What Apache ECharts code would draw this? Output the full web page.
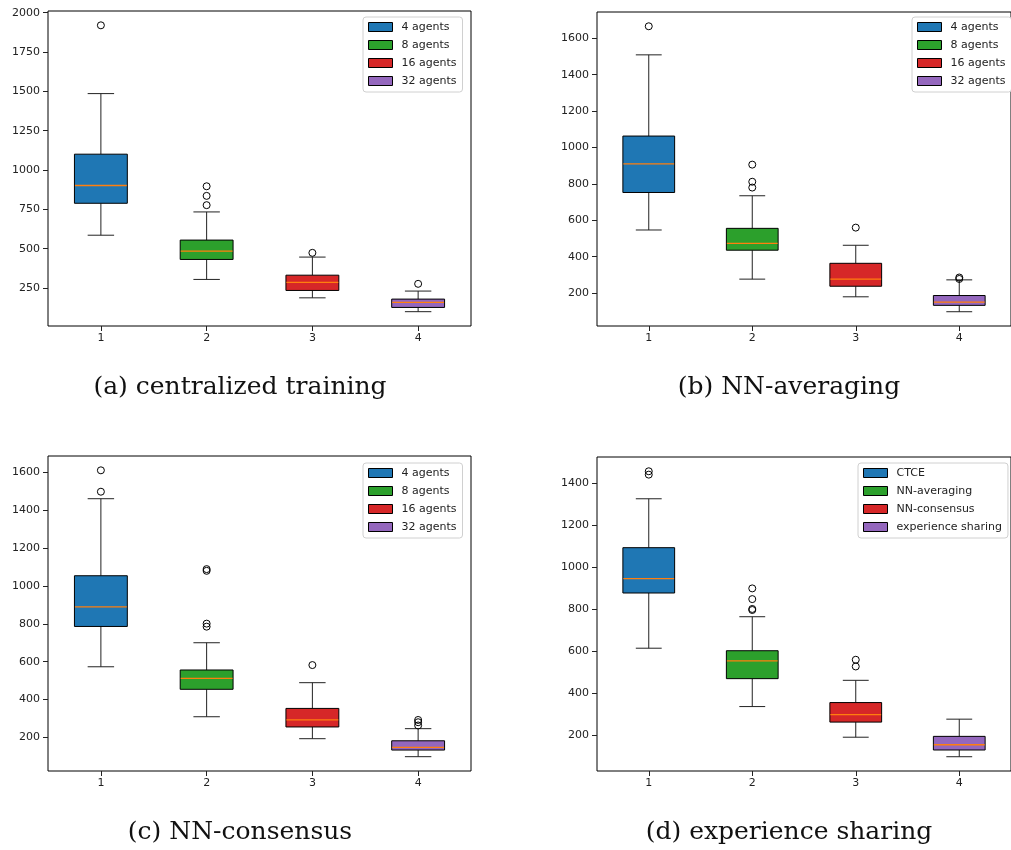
<!DOCTYPE html>
<html><head><meta charset="utf-8">
<script src="https://cdn.jsdelivr.net/npm/echarts@6/dist/echarts.min.js"></script>
<style>html,body{margin:0;padding:0;background:#fff}#c{width:1011px;height:850px}</style>
</head><body><div id="c"></div>
<script>
// ---------- data ----------
const categories = [1, 2, 3, 4];
const agentLabels = ['4 agents', '8 agents', '16 agents', '32 agents'];
const methodLabels = ['CTCE', 'NN-averaging', 'NN-consensus', 'experience sharing'];
const captions = ['(a) centralized training', '(b) NN-averaging', '(c) NN-consensus', '(d) experience sharing'];

// each box: [lower whisker, Q1, median, Q3, upper whisker]
const boxStatsA = [[586, 789, 902, 1101, 1486], [305, 432, 485, 555, 734], [188, 235, 286, 332, 447], [100, 127, 159, 180, 231]];
const outliersA = [[1920], [897, 836, 777], [474], [277]];
const boxStatsB = [[547, 753, 910, 1063, 1509], [277, 436, 474, 556, 735], [180, 238, 277, 364, 463], [98, 133, 151, 187, 273]];
const outliersB = [[1666], [906, 812, 780], [560], [286, 278]];
const boxStatsC = [[573, 786, 890, 1054, 1461], [309, 454, 512, 556, 700], [193, 255, 292, 353, 489], [98, 133, 147, 182, 246]];
const outliersC = [[1611, 1498], [1089, 1080, 801, 785], [582], [292, 280, 263]];
const boxStatsD = [[614, 877, 946, 1093, 1326], [336, 469, 554, 602, 764], [190, 262, 298, 355, 461], [97, 129, 154, 194, 276]];
const outliersD = [[1457, 1441], [899, 848, 801, 796], [559, 527], []];

const yTicksA = [250, 500, 750, 1000, 1250, 1500, 1750, 2000];
const yTicksB = [200, 400, 600, 800, 1000, 1200, 1400, 1600];
const yTicksC = [200, 400, 600, 800, 1000, 1200, 1400, 1600];
const yTicksD = [200, 400, 600, 800, 1000, 1200, 1400];

// ---------- style ----------
const palette = ['#1f77b4', '#2ca02c', '#d62728', '#9467bd'];
const medianColor = '#ff7f0e';
const inkColor = '#222';
const tickFont = 'DejaVu Sans';

const panels = [
  { stats: boxStatsA, out: outliersA, ticks: yTicksA, labels: agentLabels, caption: captions[0],
    grid: { left: 48, top: 11, width: 423, height: 315 }, legendPos: { left: 363, top: 17 }, capPos: [240, 387] },
  { stats: boxStatsB, out: outliersB, ticks: yTicksB, labels: agentLabels, caption: captions[1],
    grid: { left: 597, top: 12, width: 423, height: 314 }, legendPos: { left: 912, top: 17 }, capPos: [789, 387] },
  { stats: boxStatsC, out: outliersC, ticks: yTicksC, labels: agentLabels, caption: captions[2],
    grid: { left: 48, top: 456, width: 423, height: 315 }, legendPos: { left: 363, top: 463 }, capPos: [240, 832] },
  { stats: boxStatsD, out: outliersD, ticks: yTicksD, labels: methodLabels, caption: captions[3],
    grid: { left: 597, top: 457, width: 423, height: 314 }, legendPos: { left: 858, top: 463 }, capPos: [789, 832] }
];

function renderBox(params, api) {
  const x = api.value(0);
  const lo = api.value(1), q1 = api.value(2), med = api.value(3), q3 = api.value(4), hi = api.value(5);
  const ci = api.value(6);
  const c = api.coord([x, med]);
  const boxL = api.coord([x - 0.25, q3]);
  const boxR = api.coord([x + 0.25, q1]);
  const capL = api.coord([x - 0.125, hi])[0];
  const capR = api.coord([x + 0.125, hi])[0];
  const yLo = api.coord([x, lo])[1];
  const yHi = api.coord([x, hi])[1];
  const lineStyle = { stroke: inkColor, lineWidth: 1, fill: null };
  return {
    type: 'group',
    children: [
      { type: 'line', shape: { x1: c[0], y1: boxR[1], x2: c[0], y2: yLo }, style: lineStyle },
      { type: 'line', shape: { x1: c[0], y1: boxL[1], x2: c[0], y2: yHi }, style: lineStyle },
      { type: 'line', shape: { x1: capL, y1: yLo, x2: capR, y2: yLo }, style: lineStyle },
      { type: 'line', shape: { x1: capL, y1: yHi, x2: capR, y2: yHi }, style: lineStyle },
      { type: 'rect', shape: { x: boxL[0], y: boxL[1], width: boxR[0] - boxL[0], height: boxR[1] - boxL[1] },
        style: { fill: palette[ci], stroke: '#000', lineWidth: 1 } },
      { type: 'line', shape: { x1: boxL[0] + 0.5, y1: c[1], x2: boxR[0] - 0.5, y2: c[1] },
        style: { stroke: medianColor, lineWidth: 1.3 } }
    ]
  };
}

const grids = [], xAxes = [], yAxes = [], series = [], legends = [], graphics = [];
panels.forEach((p, k) => {
  const all = [];
  p.stats.forEach(s => all.push(...s));
  p.out.forEach(o => all.push(...o));
  const dmin = Math.min(...all), dmax = Math.max(...all);
  const pad = (dmax - dmin) * 0.05;
  grids.push(Object.assign({ show: true, borderColor: '#000', borderWidth: 1, backgroundColor: 'transparent', containLabel: false }, p.grid));
  xAxes.push({
    type: 'value', gridIndex: k, min: 0.5, max: 4.5,
    axisLine: { show: false }, splitLine: { show: false },
    axisTick: { show: true, length: 5, lineStyle: { color: inkColor }, customValues: categories },
    axisLabel: { show: true, color: inkColor, fontSize: 11, fontFamily: tickFont, margin: 7, customValues: categories,
      formatter: v => String(v) }
  });
  yAxes.push({
    type: 'value', gridIndex: k, min: dmin - pad, max: dmax + pad,
    axisLine: { show: false }, splitLine: { show: false },
    axisTick: { show: true, length: 5, lineStyle: { color: inkColor }, customValues: p.ticks },
    axisLabel: { show: true, color: inkColor, fontSize: 11, fontFamily: tickFont, margin: 8, customValues: p.ticks,
      formatter: v => String(v) }
  });
  series.push({
    type: 'custom', xAxisIndex: k, yAxisIndex: k, renderItem: renderBox, silent: true,
    encode: { x: 0, y: [1, 2, 3, 4, 5] },
    data: p.stats.map((s, i) => [categories[i], s[0], s[1], s[2], s[3], s[4], i])
  });
  const outPts = [];
  p.out.forEach((o, i) => o.forEach(v => outPts.push([categories[i], v])));
  series.push({
    type: 'scatter', xAxisIndex: k, yAxisIndex: k, symbol: 'circle', symbolSize: 7, silent: true,
    itemStyle: { color: 'rgba(0,0,0,0)', borderColor: '#000', borderWidth: 1, opacity: 1 },
    data: outPts
  });
  legends.push({
    orient: 'vertical', left: p.legendPos.left, top: p.legendPos.top, selectedMode: false,
    backgroundColor: '#fff', borderColor: '#d0d0d0', borderWidth: 1, borderRadius: 3,
    padding: [4, 6, 5, 5], itemWidth: 24, itemHeight: 9, itemGap: 6,
    textStyle: { fontSize: 11, fontFamily: tickFont, color: inkColor, lineHeight: 12, padding: [0, 0, 0, 4] },
    data: p.labels.map((n, i) => ({ name: n, icon: 'rect',
      itemStyle: { color: palette[i], borderColor: '#000', borderWidth: 1, opacity: 1 } }))
  });
  graphics.push({
    type: 'text', x: p.capPos[0], y: p.capPos[1], silent: true,
    style: { text: p.caption, fontSize: 25, fontFamily: 'DejaVu Serif', fill: '#111',
      align: 'center', verticalAlign: 'middle', textAlign: 'center', textVerticalAlign: 'middle' }
  });
});

// dummy series for legend entries
const legendNames = agentLabels.concat(methodLabels);
legendNames.forEach((n, i) => {
  series.push({ type: 'scatter', name: n, xAxisIndex: 0, yAxisIndex: 0, data: [],
    itemStyle: { color: palette[i % 4], borderColor: '#000', borderWidth: 1, opacity: 1 } });
});

const chart = echarts.init(document.getElementById('c'), null, { renderer: 'canvas' });
chart.setOption({
  animation: false,
  backgroundColor: '#fff',
  grid: grids, xAxis: xAxes, yAxis: yAxes, series: series, legend: legends, graphic: graphics
});
</script></body></html>
